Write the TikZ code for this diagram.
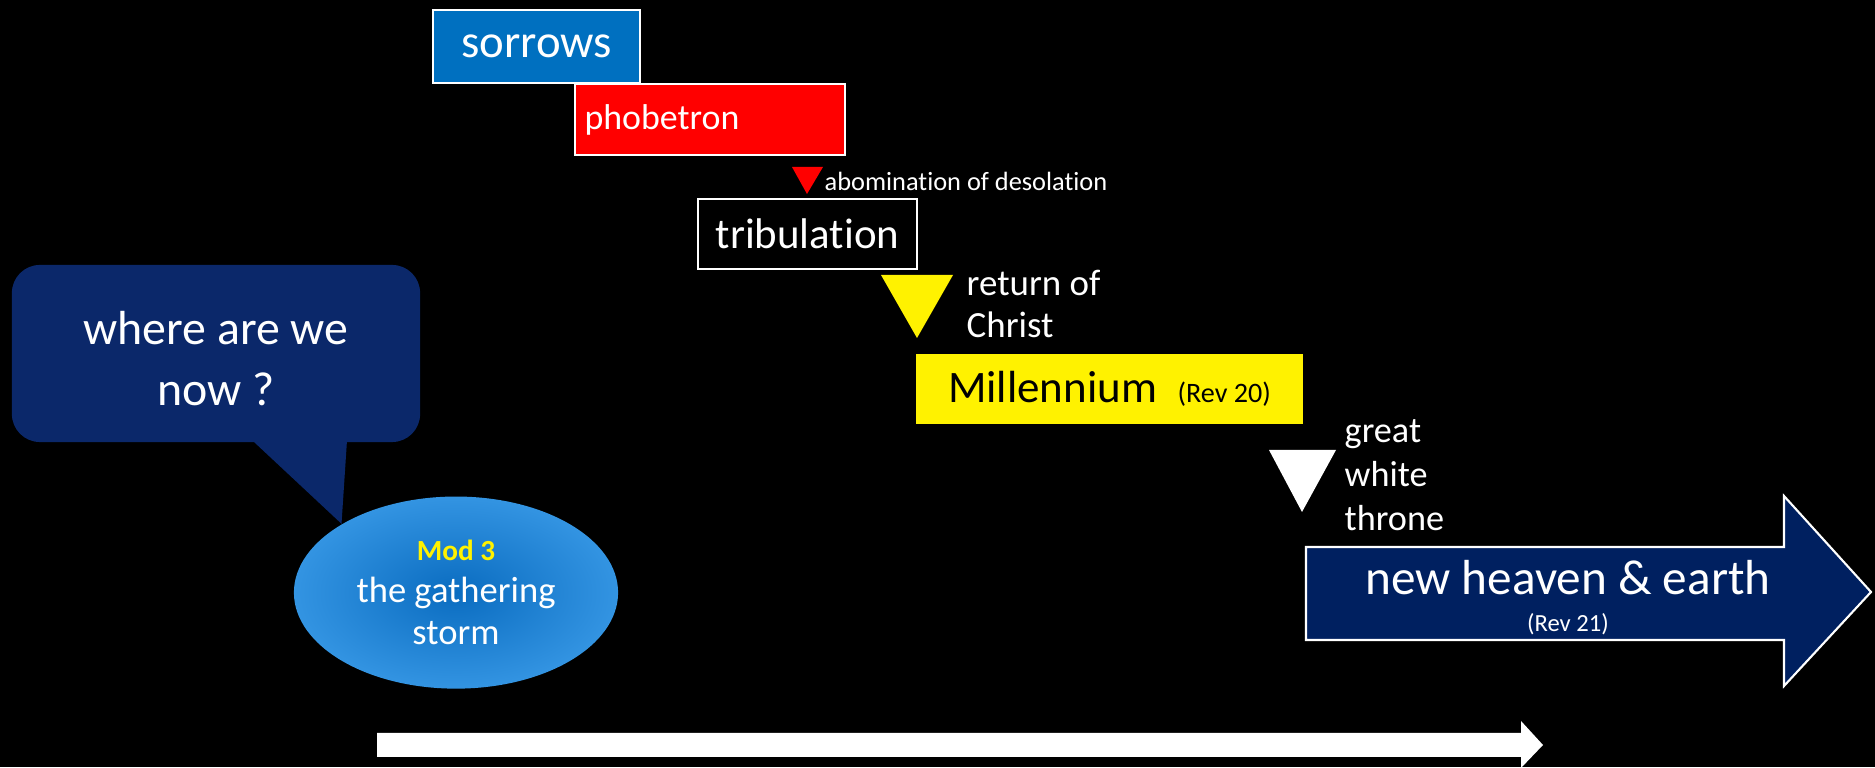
\documentclass[tikz,border=0pt]{standalone}
\usepackage{fontspec}
\setmainfont{Carlito}[Ligatures=NoCommon]
\usepackage{tikz}
\usetikzlibrary{shapes.geometric}
\definecolor{sorrowblue}{HTML}{0070C0}
\definecolor{heavennavy}{HTML}{002060}
\definecolor{bubblenavy}{HTML}{0B286A}
\definecolor{stormlight}{HTML}{3394E2}
\definecolor{stormdark}{HTML}{0A6CC0}

\begin{document}
\begin{tikzpicture}[x=0.01cm,y=-0.01cm,
        every node/.style={inner sep=0pt},
        stagebox/.style={draw=white,line width=0.6pt,text=white},
        notetext/.style={text=white,align=left,anchor=west}]
        \fill [black] (0,0) rectangle (1875,767);
        \node[stagebox,fill=sorrowblue,minimum width=2.07cm,minimum height=0.73cm,
              font=\fontsize{13.3}{16}\selectfont] (sorrows) at (536.5,46.5) {sorrows};
        \node[stagebox,fill=red,minimum width=2.70cm,minimum height=0.71cm] (phob) at (710,119.5) {};
        \node[notetext,font=\fontsize{10.2}{12}\selectfont] (phoblabel) at ([xshift=0.1cm]phob.west) {phobetron};
        \fill[red] (792,167) -- (823,167) -- (807,194) -- cycle;
        \node[notetext,font=\fontsize{7.5}{9}\selectfont] (abom) at (824,181) {abomination of desolation};
        \node[stagebox,fill=black,minimum width=2.19cm,minimum height=0.70cm,
              font=\fontsize{12.2}{15}\selectfont] (trib) at (807.5,234) {tribulation};
        \fill[yellow] (881,275) -- (953,275) -- (917,338) -- cycle;
        \node[notetext,font=\fontsize{10.5}{12}\selectfont] (return) at (966,304) {return of\\Christ};
        \node[fill=yellow,minimum width=3.87cm,minimum height=0.70cm,
              font=\fontsize{12.8}{15}\selectfont] (mill) at (1109.5,389)
              {Millennium\ \ {\fontsize{8}{10}\selectfont (Rev 20)}};
        \fill[white] (1269,450) -- (1336,450) -- (1302,512) -- cycle;
        \node[notetext,font=\fontsize{10.3}{12.5}\selectfont] (throne) at (1344,475) {great\\white\\throne};
        \draw[fill=heavennavy,draw=white,line width=0.6pt] (1306,547) -- (1784,547) -- (1784,496)
              -- (1871,592) -- (1784,686) -- (1784,640) -- (1306,640) -- cycle;
        \node[text=white,font=\fontsize{14}{16}\selectfont] (heaven) at (1568,578) {new heaven \& earth};
        \node[text=white,font=\fontsize{7}{9}\selectfont] (rev21) at (1568,624) {(Rev 21)};
        \node[ellipse,minimum width=3.24cm,minimum height=1.92cm,inner color=stormdark,outer color=stormlight,
              text=white,align=center,font=\fontsize{10.4}{12}\selectfont] (storm) at (456,592.6)
              {{\bfseries\fontsize{8.3}{12}\selectfont\color{yellow}Mod 3}\\the gathering\\storm};
        \node[rectangle,rounded corners=0.28cm,fill=bubblenavy,minimum width=4.08cm,minimum height=1.77cm]
              (bubble) at (216,353.5) {};
        \node[text=white,align=center,font=\fontsize{13.6}{17.4}\selectfont] (bubbletext)
              at ([yshift=-0.05cm]bubble.center) {where are we\\now ?};
        \fill[bubblenavy] ([xshift=0.35cm,yshift=1pt]bubble.south) -- (storm.149)
              -- ([xshift=1.31cm,yshift=1pt]bubble.south) -- cycle;
        \fill[white] (377,733) -- (1521,733) -- (1521,721) -- (1543,745) -- (1521,768)
              -- (1521,757) -- (377,757) -- cycle;
        \end{tikzpicture}
\end{document}
